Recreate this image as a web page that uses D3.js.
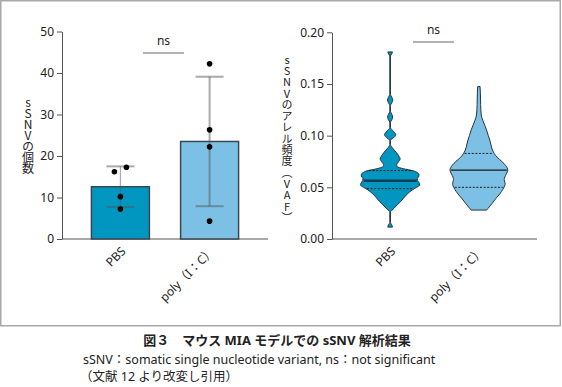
<!DOCTYPE html>
<html lang="ja">
<head>
<meta charset="UTF-8">
<title>sSNV</title>
<script src="https://cdn.jsdelivr.net/npm/d3@7"></script>
<style>
  body { margin: 0; background: #fff; }
  svg text { font-family: "Noto Sans", "Noto Sans CJK JP", sans-serif; fill: #222; }
  svg text.vlabel { font-family: "Noto Sans CJK JP", sans-serif; writing-mode: vertical-rl; text-orientation: upright; }
</style>
</head>
<body>
<script>
// ---- data ----
const groups = ["PBS", "poly（I：C）"];
const countPoints = [[16.2, 17.3, 10.2, 7.2], [42.2, 26.3, 22.2, 4.3]];
const countMean = [12.6, 23.5];
const countSD = [4.9, 15.6];
const countTicks = [0, 10, 20, 30, 40, 50];

const vafTicks = [0, 0.05, 0.10, 0.15, 0.20];
// violin outline: VAF level and relative density (1 = widest)
const pbsVaf = [0.1810, 0.1790, 0.1770, 0.1400, 0.1370, 0.1345, 0.1320, 0.1290, 0.1235, 0.1205, 0.1180, 0.1155, 0.1130,
  0.1080, 0.1040, 0.1010, 0.0980, 0.0955, 0.0915, 0.0880, 0.0840, 0.0800, 0.0775, 0.0745, 0.0715, 0.0700, 0.0680,
  0.0660, 0.0640, 0.0620, 0.0600, 0.0585, 0.0565, 0.0540, 0.0520, 0.0500, 0.0487, 0.0460, 0.0426, 0.0390, 0.0360,
  0.0330, 0.0297, 0.0275, 0.0265, 0.0160, 0.0140, 0.0115];
const pbsDensity = [0.08, 0.05, 0.01, 0.01, 0.06, 0.09, 0.06, 0.01, 0.01, 0.06, 0.085, 0.06, 0.01,
  0.01, 0.12, 0.19, 0.12, 0.01, 0.01, 0.08, 0.20, 0.30, 0.34, 0.28, 0.22, 0.24, 0.45,
  0.78, 0.93, 0.98, 0.96, 0.92, 0.93, 0.99, 1.00, 0.90, 0.82, 0.68, 0.55, 0.44, 0.35,
  0.24, 0.13, 0.05, 0.01, 0.01, 0.05, 0.08];
const polyVaf = [0.1475, 0.1420, 0.1300, 0.1200, 0.1150, 0.1100, 0.1055, 0.1000, 0.0958, 0.0900, 0.0860, 0.0828,
  0.0790, 0.0750, 0.0710, 0.0667, 0.0630, 0.0600, 0.0575, 0.0550, 0.0530, 0.0500, 0.0460, 0.0426, 0.0390,
  0.0345, 0.0310, 0.0285, 0.0280];
const polyDensity = [0.04, 0.05, 0.06, 0.08, 0.13, 0.20, 0.26, 0.32, 0.37, 0.42, 0.46, 0.52,
  0.62, 0.78, 0.91, 0.98, 0.93, 0.88, 0.86, 0.88, 0.89, 0.85, 0.77, 0.68, 0.57,
  0.45, 0.35, 0.28, 0.27];
const pbsQuartiles = [0.0487, 0.0563, 0.0662];
const polyQuartiles = [0.0500, 0.0667, 0.0828];

const barColors = ["#0096c0", "#7cc1e5"];
const dotJitter = [[-6, 6, 0, 0], [0, 0, 0, 0]];

const svg = d3.select("body").append("svg")
  .attr("width", 562)
  .attr("height", 387);

// frame around the panels
svg.append("rect")
  .attr("x", 0.75).attr("y", 0.75)
  .attr("width", 559.5).attr("height", 325)
  .attr("fill", "none").attr("stroke", "#a8a8a8").attr("stroke-width", 1.5);

// y label written top-to-bottom, one upright glyph under another
function verticalLabel(g, label, x, y0, size, spacing) {
  g.append("text")
    .attr("class", "vlabel")
    .attr("x", x)
    .attr("y", y0)
    .attr("font-size", size)
    .attr("letter-spacing", spacing)
    .text(label);
}

function xAxisLabels(g, x, y0) {
  g.selectAll(null)
    .data(groups)
    .enter().append("text")
    .attr("transform", d => "translate(" + (x(d) + x.bandwidth() / 2 + 6) + "," + (y0 + 13) + ") rotate(-45)")
    .attr("text-anchor", "end")
    .attr("font-size", 12)
    .text(d => d);
}

function styleAxis(a) {
  a.select(".domain").attr("stroke", "#555");
  a.selectAll(".tick line").attr("stroke", "#555");
  a.selectAll(".tick text").attr("font-size", 12).attr("fill", "#222")
    .attr("font-family", "'Noto Sans', sans-serif");
}

function nsBracket(g, xa, xb, y) {
  g.append("line").attr("x1", xa).attr("x2", xb).attr("y1", y).attr("y2", y)
    .attr("stroke", "#666").attr("stroke-width", 1);
  g.append("text").attr("x", (xa + xb) / 2).attr("y", y - 8)
    .attr("text-anchor", "middle").attr("font-size", 12).text("ns");
}

// ---- left: number of sSNV ----
const g1 = svg.append("g");
const x1 = d3.scaleBand().domain(groups).range([62, 268]).paddingInner(0.35).paddingOuter(0.33);
const y1 = d3.scaleLinear().domain([0, 50]).range([239, 31.5]);

const ax1 = g1.append("g").attr("transform", "translate(62,0)")
  .call(d3.axisLeft(y1).tickValues(countTicks).tickSize(5).tickSizeOuter(0));
styleAxis(ax1);
g1.append("line").attr("x1", 62).attr("x2", 268).attr("y1", y1(0)).attr("y2", y1(0))
  .attr("stroke", "#555");

g1.selectAll(".bar")
  .data(groups)
  .enter().append("rect")
  .attr("class", "bar")
  .attr("x", d => x1(d))
  .attr("y", (d, i) => y1(countMean[i]))
  .attr("width", x1.bandwidth())
  .attr("height", (d, i) => y1(0) - y1(countMean[i]))
  .attr("fill", (d, i) => barColors[i])
  .attr("stroke", "#3a4650")
  .attr("stroke-width", 1.5);

// error bars (mean ± SD)
groups.forEach((grp, i) => {
  const cx = x1(grp) + x1.bandwidth() / 2;
  const lo = y1(countMean[i] - countSD[i]), hi = y1(countMean[i] + countSD[i]);
  const eb = g1.append("g").attr("stroke", "#555").attr("stroke-opacity", 0.5).attr("stroke-width", 2);
  eb.append("line").attr("x1", cx).attr("x2", cx).attr("y1", lo).attr("y2", hi)
    .attr("stroke-width", i === 0 ? 1.2 : 2);
  eb.append("line").attr("x1", cx - 14).attr("x2", cx + 14).attr("y1", lo).attr("y2", lo);
  eb.append("line").attr("x1", cx - 14).attr("x2", cx + 14).attr("y1", hi).attr("y2", hi);

  g1.selectAll(null)
    .data(countPoints[i])
    .enter().append("circle")
    .attr("cx", (d, j) => cx + dotJitter[i][j])
    .attr("cy", d => y1(d))
    .attr("r", 2.8)
    .attr("fill", "#000");
});

nsBracket(g1, 143, 184, 53);
verticalLabel(g1, "sSNVの個数", 28, 96, 12, -1);
xAxisLabels(g1, x1, 239);

// ---- right: VAF violins ----
const g2 = svg.append("g");
const x2 = d3.scaleBand().domain(groups).range([332, 537]).paddingInner(0.35).paddingOuter(0.33);
const y2 = d3.scaleLinear().domain([0, 0.2]).range([239, 32.3]);
const w2 = d3.scaleLinear().domain([0, 1]).range([0, 29.5]);

const ax2 = g2.append("g").attr("transform", "translate(332,0)")
  .call(d3.axisLeft(y2).tickValues(vafTicks).tickFormat(d3.format(".2f")).tickSize(5).tickSizeOuter(0));
styleAxis(ax2);
g2.append("line").attr("x1", 332).attr("x2", 537).attr("y1", y2(0)).attr("y2", y2(0))
  .attr("stroke", "#555");

const violins = [
  { vaf: pbsVaf, dens: pbsDensity, q: pbsQuartiles, median: "#0c3f58", medianW: 2.6 },
  { vaf: polyVaf, dens: polyDensity, q: polyQuartiles, median: "#1a1a1a", medianW: 1.2 }
];

violins.forEach((v, i) => {
  const cx = x2(groups[i]) + x2.bandwidth() / 2;
  const pts = v.vaf.map((d, j) => [d, v.dens[j]]);
  const area = d3.area()
    .y(d => y2(d[0]))
    .x0(d => cx - w2(d[1]))
    .x1(d => cx + w2(d[1]))
    .curve(d3.curveMonotoneY);
  g2.append("path")
    .attr("d", area(pts))
    .attr("fill", barColors[i])
    .attr("stroke", "#27343d")
    .attr("stroke-width", 1);

  // quartile lines span the outline width at that level
  const densAt = d3.scaleLinear().domain(v.vaf).range(v.dens);
  v.q.forEach((q, k) => {
    const hw = w2(densAt(q)) - 1;
    g2.append("line")
      .attr("x1", cx - hw).attr("x2", cx + hw)
      .attr("y1", y2(q)).attr("y2", y2(q))
      .attr("stroke", k === 1 ? v.median : "#1a1a1a")
      .attr("stroke-width", k === 1 ? v.medianW : 1)
      .attr("stroke-dasharray", k === 1 ? null : "2,1.6");
  });
});

nsBracket(g2, 413, 454, 42);
verticalLabel(g2, "sSNVのアレル頻度（VAF）", 287, 54, 11, 0.3);
xAxisLabels(g2, x2, 239);

// ---- caption ----
svg.append("text").attr("x", 277).attr("y", 345).attr("text-anchor", "middle")
  .attr("font-size", 13).attr("font-weight", "bold").attr("fill", "#000")
  .text("図３　マウス MIA モデルでの sSNV 解析結果");
svg.append("text").attr("x", 83).attr("y", 364).attr("font-size", 12.5).attr("fill", "#000")
  .text("sSNV：somatic single nucleotide variant, ns：not significant");
svg.append("text").attr("x", 80).attr("y", 381).attr("font-size", 12.5).attr("fill", "#000")
  .text("（文献 12 より改変し引用）");
</script>
</body>
</html>
